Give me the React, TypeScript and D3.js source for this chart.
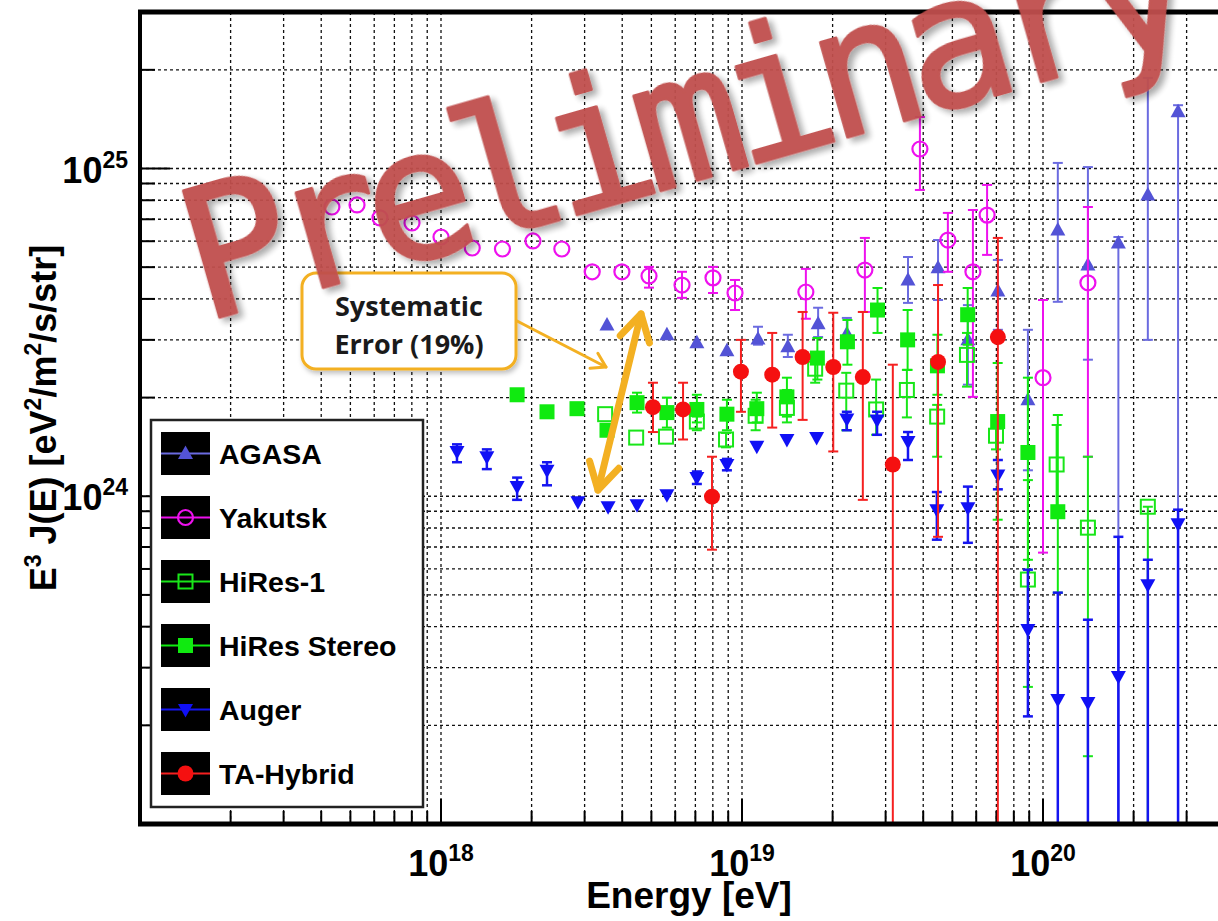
import React from 'react';
import * as d3 from 'd3';

const WIDTH = 1218;
const HEIGHT = 921;

// Plot frame (the right edge runs past the visible canvas)
const FRAME_LEFT = 140;
const FRAME_TOP = 12;
const FRAME_BOTTOM = 824;
const FRAME_RIGHT = 1340;

const OFF = 1e22; // lower bound used for open-ended error bars

// ---------------- data: E^3 J(E) in eV^2 m^-2 s^-1 sr^-1 ----------------
const agasaE = [3.56e18, 5.63e18, 7.08e18, 8.91e18, 1.13e19, 1.42e19, 1.79e19, 2.23e19, 3.56e19, 4.48e19, 5.63e19, 7.08e19, 8.91e19, 1.12e20, 1.41e20, 1.78e20, 2.23e20, 2.81e20];
const agasaJ = [3.33e24, 3.11e24, 2.94e24, 2.78e24, 3.02e24, 2.86e24, 3.36e24, 3.13e24, 4.57e24, 4.98e24, 3.0e24, 4.23e24, 1.97e24, 6.49e24, 5.08e24, 5.93e24, 8.3e24, 1.49e25];
const agasaLo = [3.33e24, 3.11e24, 2.94e24, 2.78e24, 2.9e24, 2.66e24, 3.06e24, 2.9e24, 3.89e24, 3.97e24, 2.19e24, 3.22e24, 1.2e24, 3.92e24, 2.61e24, OFF, 3.0e24, OFF];
const agasaHi = [3.33e24, 3.11e24, 2.94e24, 2.78e24, 3.29e24, 3.11e24, 3.76e24, 3.5e24, 5.37e24, 6.05e24, 3.83e24, 5.26e24, 3.22e24, 1.04e25, 1.01e25, 6.18e24, 1.89e25, 1.56e25];

const yakutskE = [4.34e17, 5.26e17, 6.27e17, 8.01e17, 1.0e18, 1.27e18, 1.6e18, 2.02e18, 2.52e18, 3.18e18, 3.99e18, 4.91e18, 6.32e18, 8.01e18, 9.48e18, 1.63e19, 2.56e19, 3.9e19, 4.83e19, 5.85e19, 6.52e19, 1.0e20, 1.41e20];
const yakutskJ = [7.63e24, 7.74e24, 7.07e24, 6.82e24, 6.18e24, 5.72e24, 5.68e24, 6.01e24, 5.68e24, 4.84e24, 4.84e24, 4.7e24, 4.41e24, 4.64e24, 4.17e24, 4.2e24, 4.9e24, 1.147e25, 6.05e24, 4.84e24, 7.21e24, 2.3e24, 4.48e24];
const yakutskLo = [7.63e24, 7.74e24, 7.07e24, 6.82e24, 6.18e24, 5.72e24, 5.68e24, 6.01e24, 5.68e24, 4.84e24, 4.84e24, 4.33e24, 4.03e24, 4.17e24, 3.7e24, 3.48e24, 3.65e24, 8.6e24, 4.84e24, 2.01e24, 5.45e24, 6.73e23, 1.32e24];
const yakutskHi = [7.63e24, 7.74e24, 7.07e24, 6.82e24, 6.18e24, 5.72e24, 5.68e24, 6.01e24, 5.68e24, 4.84e24, 4.84e24, 5.01e24, 4.84e24, 5.01e24, 4.57e24, 4.94e24, 6.14e24, 1.436e25, 7.32e24, 7.47e24, 8.91e24, 3.97e24, 7.63e24];

const hires1E = [3.51e18, 4.45e18, 5.59e18, 7.08e18, 8.85e18, 1.11e19, 1.41e19, 1.75e19, 2.22e19, 2.79e19, 3.53e19, 4.45e19, 5.59e19, 6.98e19, 8.91e19, 1.11e20, 1.41e20, 2.23e20];
const hires1J = [1.78e24, 1.51e24, 1.52e24, 1.69e24, 1.49e24, 1.76e24, 1.86e24, 2.45e24, 2.1e24, 1.84e24, 2.11e24, 1.75e24, 2.7e24, 1.53e24, 5.57e23, 1.25e24, 8.02e23, 9.29e23];
const hires1Lo = [1.78e24, 1.51e24, 1.52e24, 1.59e24, 1.41e24, 1.59e24, 1.68e24, 2.22e24, 1.59e24, 1.54e24, 1.74e24, 1.32e24, 2.16e24, 1.39e24, 2.62e23, 8.79e23, 1.61e23, OFF];
const hires1Hi = [1.78e24, 1.51e24, 1.52e24, 1.75e24, 1.56e24, 1.97e24, 2.11e24, 2.61e24, 2.38e24, 2.27e24, 2.43e24, 1.9e24, 3.15e24, 1.75e24, 1.12e24, 1.65e24, 1.32e24, 9.29e23];

const stereoE = [1.79e18, 2.25e18, 2.83e18, 3.56e18, 4.48e18, 5.63e18, 7.08e18, 8.91e18, 1.12e19, 1.41e19, 1.78e19, 2.24e19, 2.82e19, 3.55e19, 4.46e19, 5.62e19, 7.07e19, 8.91e19, 1.12e20];
const stereoJ = [2.04e24, 1.81e24, 1.85e24, 1.59e24, 1.93e24, 1.8e24, 1.84e24, 1.78e24, 1.85e24, 2.01e24, 2.64e24, 2.96e24, 3.7e24, 3.0e24, 2.5e24, 3.58e24, 1.69e24, 1.36e24, 8.97e23];
const stereoLo = [2.04e24, 1.81e24, 1.85e24, 1.59e24, 1.8e24, 1.62e24, 1.68e24, 1.59e24, 1.68e24, 1.75e24, 2.27e24, 2.52e24, 3.15e24, 2.43e24, 2.04e24, 2.9e24, 8.48e23, 6.4e23, 5.08e23];
const stereoHi = [2.04e24, 1.81e24, 1.85e24, 1.59e24, 2.07e24, 2.0e24, 2.04e24, 1.97e24, 2.07e24, 2.3e24, 3.04e24, 3.45e24, 4.32e24, 3.7e24, 3.11e24, 4.32e24, 2.55e24, 2.3e24, 1.77e24];

const augerE = [1.13e18, 1.42e18, 1.79e18, 2.25e18, 2.85e18, 3.59e18, 4.48e18, 5.63e18, 7.08e18, 8.91e18, 1.12e19, 1.41e19, 1.77e19, 2.23e19, 2.81e19, 3.56e19, 4.44e19, 5.63e19, 7.08e19, 8.91e19, 1.12e20, 1.41e20, 1.78e20, 2.23e20, 2.81e20];
const augerJ = [1.37e24, 1.32e24, 1.07e24, 1.2e24, 9.62e23, 9.29e23, 9.42e23, 1.01e24, 1.14e24, 1.25e24, 1.42e24, 1.49e24, 1.51e24, 1.72e24, 1.71e24, 1.47e24, 9.1e23, 9.23e23, 1.16e24, 3.92e23, 2.4e23, 2.35e23, 2.82e23, 5.37e23, 8.24e23];
const augerLo = [1.27e24, 1.21e24, 9.75e23, 1.08e24, 9.62e23, 9.29e23, 9.42e23, 1.01e24, 1.09e24, 1.2e24, 1.42e24, 1.49e24, 1.51e24, 1.59e24, 1.54e24, 1.29e24, 7.37e23, 7.21e23, 1.05e24, 2.13e23, OFF, OFF, OFF, OFF, OFF];
const augerHi = [1.44e24, 1.39e24, 1.14e24, 1.27e24, 9.62e23, 9.29e23, 9.42e23, 1.01e24, 1.19e24, 1.3e24, 1.42e24, 1.49e24, 1.51e24, 1.81e24, 1.81e24, 1.57e24, 1.03e24, 1.07e24, 1.29e24, 5.97e23, 5.08e23, 4.2e23, 7.52e23, 6.4e23, 9.1e23];

const taE = [5.06e18, 6.37e18, 7.95e18, 9.92e18, 1.26e19, 1.59e19, 2.01e19, 2.52e19, 3.17e19, 4.48e19, 7.08e19];
const taJ = [1.87e24, 1.84e24, 9.97e23, 2.4e24, 2.35e24, 2.66e24, 2.48e24, 2.31e24, 1.25e24, 2.57e24, 3.06e24];
const taLo = [1.57e24, 1.49e24, 6.87e23, 1.81e24, 1.62e24, 1.71e24, 1.37e24, 9.75e23, OFF, 7.52e23, OFF];
const taHi = [2.22e24, 2.22e24, 1.32e24, 3.0e24, 3.15e24, 3.65e24, 3.63e24, 3.65e24, 2.52e24, 4.41e24, 6.14e24];

const xTickLabels = ['18', '19', '20'];
const xTickValues = [1e18, 1e19, 1e20];
const yTickLabels = ['24', '25'];
const yTickValues = [1e24, 1e25];

type MarkerKind = 'triUp' | 'triDown' | 'circleOpen' | 'circleFilled' | 'squareOpen' | 'squareFilled';

interface Series {
  name: string;
  color: string;
  barColor: string;
  barWidth: number;
  marker: MarkerKind;
  E: number[];
  J: number[];
  lo: number[];
  hi: number[];
}

const series: Series[] = [
  { name: 'AGASA', color: '#5353d6', barColor: '#6b6be0', barWidth: 2, marker: 'triUp', E: agasaE, J: agasaJ, lo: agasaLo, hi: agasaHi },
  { name: 'Yakutsk', color: '#ee11ee', barColor: '#ee11ee', barWidth: 2, marker: 'circleOpen', E: yakutskE, J: yakutskJ, lo: yakutskLo, hi: yakutskHi },
  { name: 'HiRes-1', color: '#19e619', barColor: '#19e619', barWidth: 2, marker: 'squareOpen', E: hires1E, J: hires1J, lo: hires1Lo, hi: hires1Hi },
  { name: 'HiRes Stereo', color: '#10ea10', barColor: '#10ea10', barWidth: 2, marker: 'squareFilled', E: stereoE, J: stereoJ, lo: stereoLo, hi: stereoHi },
  { name: 'Auger', color: '#1010f5', barColor: '#1515f0', barWidth: 2.5, marker: 'triDown', E: augerE, J: augerJ, lo: augerLo, hi: augerHi },
  { name: 'TA-Hybrid', color: '#f51010', barColor: '#f52020', barWidth: 2, marker: 'circleFilled', E: taE, J: taJ, lo: taLo, hi: taHi },
];

// ---------------- scales ----------------
const x = d3.scaleLog().domain([1e17, 1e20]).range([FRAME_LEFT, 1043]);
const y = d3.scaleLog().domain([1e23, 1e25]).range([FRAME_BOTTOM, 168.5]);

const xMinor: number[] = [];
for (let n = 17; n <= 20; n++) {
  for (let k = 1; k <= 9; k++) {
    const v = k * Math.pow(10, n);
    if (x(v) > FRAME_LEFT + 1 && x(v) < FRAME_RIGHT) xMinor.push(v);
  }
}
const yMinor: number[] = [];
for (let n = 23; n <= 25; n++) {
  for (let k = 1; k <= 9; k++) {
    const v = k * Math.pow(10, n);
    if (y(v) < FRAME_BOTTOM - 1 && y(v) > FRAME_TOP + 2) yMinor.push(v);
  }
}
const isMajor = (v: number) => Math.abs(Math.log10(v) - Math.round(Math.log10(v))) < 1e-6;

const FONT = "'Liberation Sans', Arial, Helvetica, sans-serif";
const GOLD = '#f3b022';

function Marker({ kind, cx, cy, color }: { kind: MarkerKind; cx: number; cy: number; color: string }) {
  switch (kind) {
    case 'triUp':
      return <path d={`M${cx},${cy - 8}L${cx + 7.5},${cy + 5.5}L${cx - 7.5},${cy + 5.5}Z`} fill={color} />;
    case 'triDown':
      return <path d={`M${cx},${cy + 8}L${cx + 7.5},${cy - 5.5}L${cx - 7.5},${cy - 5.5}Z`} fill={color} />;
    case 'circleOpen':
      return <circle cx={cx} cy={cy} r={7.5} fill="none" stroke={color} strokeWidth={2.2} />;
    case 'circleFilled':
      return <circle cx={cx} cy={cy} r={8} fill={color} />;
    case 'squareOpen':
      return <rect x={cx - 7} y={cy - 7} width={14} height={14} fill="none" stroke={color} strokeWidth={2} />;
    case 'squareFilled':
      return <rect x={cx - 7.5} y={cy - 7.5} width={15} height={15} fill={color} />;
  }
  return null;
}

function ErrorBar({ cx, yTop, yBot, color, width }: { cx: number; yTop: number; yBot: number; color: string; width: number }) {
  if (Math.abs(yBot - yTop) < 1) return null;
  const cap = 5;
  return (
    <g stroke={color} strokeWidth={width}>
      <line x1={cx} x2={cx} y1={yTop} y2={yBot} />
      {yTop > FRAME_TOP && <line x1={cx - cap} x2={cx + cap} y1={yTop} y2={yTop} />}
      {yBot < FRAME_BOTTOM && <line x1={cx - cap} x2={cx + cap} y1={yBot} y2={yBot} />}
    </g>
  );
}

// chevron arrow head lines for a tip and the direction the arrow points to
function chevron(tipX: number, tipY: number, dirX: number, dirY: number, len: number, angleDeg: number) {
  const norm = Math.hypot(dirX, dirY);
  const ux = dirX / norm;
  const uy = dirY / norm;
  const a = (angleDeg * Math.PI) / 180;
  const rot = (s: number) => {
    const c = Math.cos(s * a);
    const sn = Math.sin(s * a);
    return [-(ux * c - uy * sn), -(ux * sn + uy * c)];
  };
  const [l1x, l1y] = rot(1);
  const [l2x, l2y] = rot(-1);
  return `M${tipX + l1x * len},${tipY + l1y * len}L${tipX},${tipY}L${tipX + l2x * len},${tipY + l2y * len}`;
}

export default function App() {
  const legendX = 151;
  const legendY = 420;
  const legendW = 272;
  const legendH = 387;
  const rowStep = 64;
  const rowStart = 453.5;

  // systematic error double arrow
  const a1 = { x: 598, y: 490 };
  const a2 = { x: 641, y: 314 };
  // pointer from the note box
  const p1 = { x: 517, y: 321 };
  const p2 = { x: 606, y: 367 };

  return (
    <svg
      width={WIDTH}
      height={HEIGHT}
      viewBox={`0 0 ${WIDTH} ${HEIGHT}`}
      style={{ position: 'absolute', left: 0, top: 0, background: '#fff' }}
      fontFamily={FONT}
    >
      <defs>
        <clipPath id="plot-clip">
          <rect x={FRAME_LEFT} y={FRAME_TOP} width={FRAME_RIGHT - FRAME_LEFT} height={FRAME_BOTTOM - FRAME_TOP} />
        </clipPath>
        <filter id="text-shadow" x="-10%" y="-10%" width="130%" height="140%">
          <feDropShadow dx="4" dy="5" stdDeviation="3" floodColor="#000" floodOpacity="0.35" />
        </filter>
        <filter id="box-shadow" x="-10%" y="-10%" width="130%" height="140%">
          <feDropShadow dx="2" dy="3" stdDeviation="2.5" floodColor="#000" floodOpacity="0.25" />
        </filter>
      </defs>

      <rect x={0} y={0} width={WIDTH} height={HEIGHT} fill="#fff" />

      {/* grid */}
      <g clipPath="url(#plot-clip)" stroke="#111" strokeWidth={1.3} strokeDasharray="3 3">
        {xMinor.map((v) => (
          <line key={`gx${v}`} x1={x(v)} x2={x(v)} y1={FRAME_TOP} y2={FRAME_BOTTOM} />
        ))}
        {yMinor.map((v) => (
          <line key={`gy${v}`} x1={FRAME_LEFT} x2={FRAME_RIGHT} y1={y(v)} y2={y(v)} />
        ))}
      </g>

      {/* ticks */}
      <g stroke="#000" strokeWidth={2}>
        {yMinor.map((v) => (
          <line key={`ty${v}`} x1={FRAME_LEFT} x2={FRAME_LEFT + (isMajor(v) ? 30 : 15)} y1={y(v)} y2={y(v)} />
        ))}
        {xMinor.map((v) => (
          <line key={`tx${v}`} x1={x(v)} x2={x(v)} y1={FRAME_BOTTOM} y2={FRAME_BOTTOM - (isMajor(v) ? 25 : 13)} />
        ))}
      </g>

      {/* data */}
      <g clipPath="url(#plot-clip)">
        {series.map((s) => (
          <g key={s.name}>
            {s.E.map((e, i) => (
              <ErrorBar
                key={`e${i}`}
                cx={x(e)}
                yTop={Math.max(FRAME_TOP - 5, y(s.hi[i]))}
                yBot={Math.min(FRAME_BOTTOM + 5, y(s.lo[i]))}
                color={s.barColor}
                width={s.barWidth}
              />
            ))}
            {s.E.map((e, i) => (
              <Marker key={`m${i}`} kind={s.marker} cx={x(e)} cy={y(s.J[i])} color={s.color} />
            ))}
          </g>
        ))}
      </g>

      {/* frame */}
      <line x1={FRAME_LEFT} x2={FRAME_LEFT} y1={FRAME_TOP - 2} y2={FRAME_BOTTOM + 2} stroke="#000" strokeWidth={4} />
      <line x1={FRAME_LEFT - 2} x2={FRAME_RIGHT} y1={FRAME_TOP} y2={FRAME_TOP} stroke="#000" strokeWidth={5} />
      <line x1={FRAME_LEFT - 2} x2={FRAME_RIGHT} y1={FRAME_BOTTOM} y2={FRAME_BOTTOM} stroke="#000" strokeWidth={5} />

      {/* tick labels */}
      <g fontWeight="bold" fill="#000">
        {xTickValues.map((v, i) => (
          <text key={`xl${i}`} x={x(v)} y={876} textAnchor="middle" fontSize={36}>
            10
            <tspan fontSize={23} dy={-15}>
              {xTickLabels[i]}
            </tspan>
          </text>
        ))}
        {yTickValues.map((v, i) => (
          <text key={`yl${i}`} x={128} y={y(v) + 14} textAnchor="end" fontSize={36}>
            10
            <tspan fontSize={23} dy={-15}>
              {yTickLabels[i]}
            </tspan>
          </text>
        ))}
      </g>

      {/* axis titles */}
      <text x={689} y={908} textAnchor="middle" fontSize={37} fontWeight="bold">
        Energy [eV]
      </text>
      <text transform="translate(56,418) rotate(-90)" textAnchor="middle" fontSize={36} fontWeight="bold">
        E<tspan fontSize={23} dy={-15}>3</tspan>
        <tspan dy={15}> J(E) [eV</tspan>
        <tspan fontSize={23} dy={-15}>2</tspan>
        <tspan dy={15}>/m</tspan>
        <tspan fontSize={23} dy={-15}>2</tspan>
        <tspan dy={15}>/s/str]</tspan>
      </text>

      {/* legend */}
      <rect x={legendX} y={legendY} width={legendW} height={legendH} fill="#fff" stroke="#222" strokeWidth={2.5} />
      {series.map((s, i) => {
        const cy = rowStart + i * rowStep;
        const bx = 161;
        const bw = 49;
        return (
          <g key={`lg${s.name}`}>
            <rect x={bx} y={cy - 21.5} width={bw} height={43} fill="#000" />
            <line x1={bx} x2={bx + bw} y1={cy} y2={cy} stroke={s.barColor} strokeWidth={2} />
            <Marker kind={s.marker} cx={bx + bw / 2} cy={cy} color={s.color} />
            <text x={219} y={cy + 10} fontSize={28.5} fontWeight="bold" fill="#000">
              {s.name}
            </text>
          </g>
        );
      })}

      {/* systematic error note */}
      <rect x={302} y={273} width={214} height={96} rx={14} fill="#fff" stroke={GOLD} strokeWidth={3} filter="url(#box-shadow)" />
      <text x={409} y={316} textAnchor="middle" fontSize={27} fontWeight="bold" fontFamily="'Open Sans', Lato, sans-serif" fill="#1a1a1a">
        Systematic
      </text>
      <text x={409} y={354} textAnchor="middle" fontSize={27} fontWeight="bold" fontFamily="'Open Sans', Lato, sans-serif" fill="#1a1a1a">
        Error (19%)
      </text>
      <g fill="none" stroke={GOLD} strokeLinecap="round" strokeLinejoin="round">
        <line x1={p1.x} y1={p1.y} x2={p2.x} y2={p2.y} strokeWidth={3} />
        <path d={chevron(p2.x, p2.y, p2.x - p1.x, p2.y - p1.y, 16, 32)} strokeWidth={3} />
        <line x1={a1.x} y1={a1.y} x2={a2.x} y2={a2.y} strokeWidth={7} />
        <path d={chevron(a2.x, a2.y, a2.x - a1.x, a2.y - a1.y, 30, 30)} strokeWidth={7} />
        <path d={chevron(a1.x, a1.y, a1.x - a2.x, a1.y - a2.y, 30, 30)} strokeWidth={7} />
      </g>

      {/* watermark */}
      <text
        x={203}
        y={322}
        transform="rotate(-16 203 322)"
        fontFamily="'DejaVu Sans Mono', 'Liberation Mono', monospace"
        fontSize={180}
        letterSpacing={-15}
        fill="#c0504d"
        stroke="#c0504d"
        strokeWidth={3}
        strokeLinejoin="round"
        opacity={0.95}
        filter="url(#text-shadow)"
      >
        Preliminary
      </text>
    </svg>
  );
}
